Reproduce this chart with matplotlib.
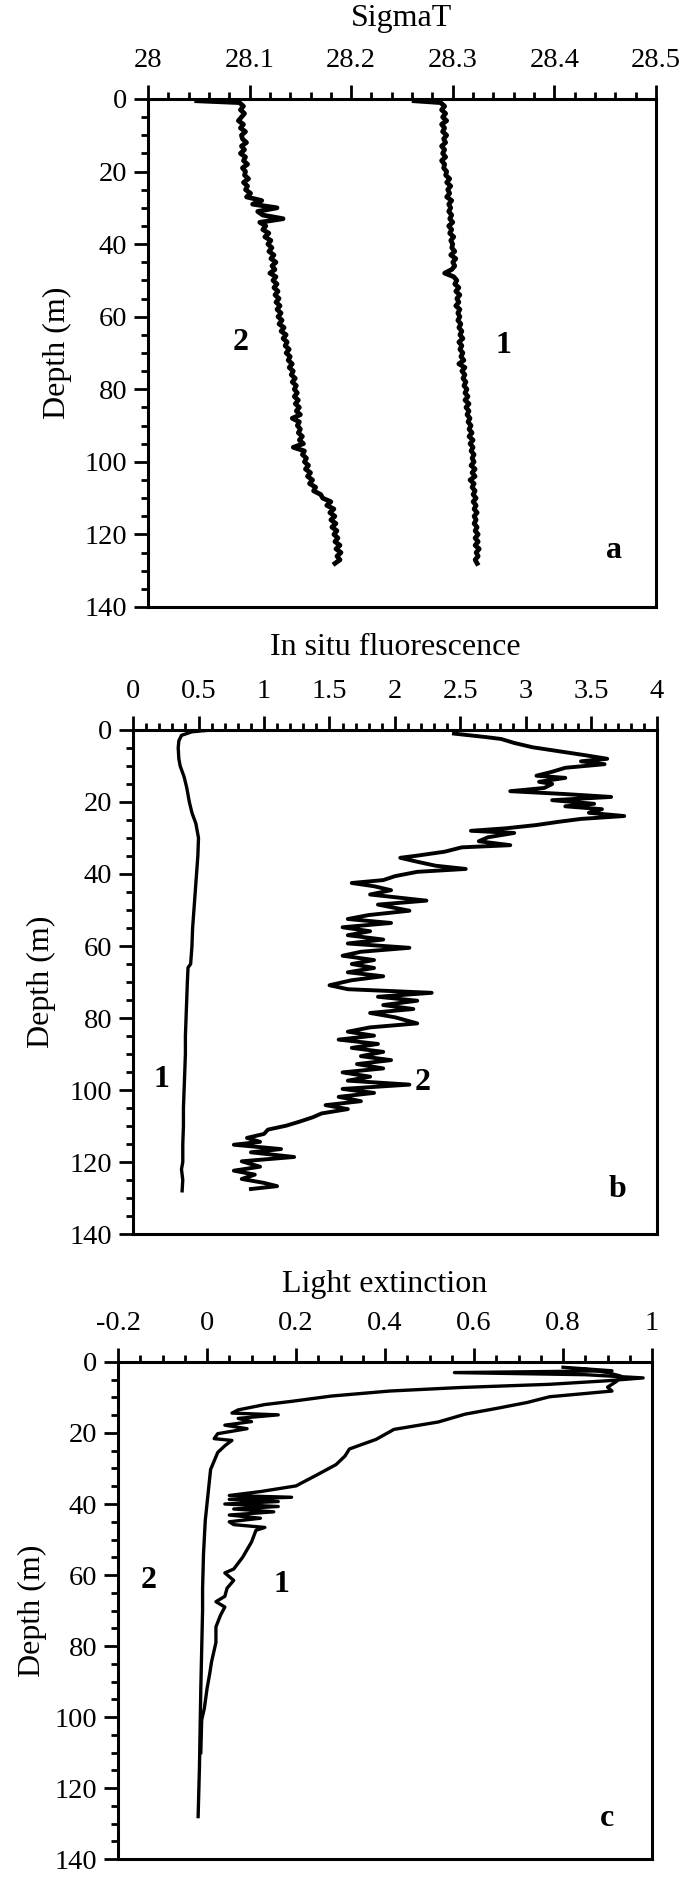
"""
Three depth profiles (SigmaT, in situ fluorescence, light extinction), stations 1 and 2.
"""

import matplotlib
matplotlib.use("Agg")
import matplotlib.pyplot as plt
import numpy as np

plt.rcParams["font.family"] = ["Liberation Serif", "DejaVu Serif"]

# ---- panel a: SigmaT, 1 m bins (first point at 0.5 m) ----
depth_a = [0.5] + list(range(1, 129))
sigma_2 = [
    28.048,
    28.090, 28.094, 28.091, 28.095, 28.092, 28.089, 28.094, 28.091, 28.096, 28.092,
    28.093, 28.097, 28.092, 28.095, 28.091, 28.096, 28.094, 28.098, 28.093, 28.096,
    28.095, 28.099, 28.094, 28.098, 28.096, 28.101, 28.097, 28.112, 28.103, 28.127,
    28.108, 28.113, 28.133, 28.110, 28.116, 28.113, 28.119, 28.115, 28.121, 28.118,
    28.122, 28.119, 28.124, 28.121, 28.126, 28.122, 28.125, 28.120, 28.126, 28.123,
    28.127, 28.124, 28.128, 28.125, 28.129, 28.126, 28.130, 28.127, 28.131, 28.128,
    28.132, 28.129, 28.134, 28.131, 28.136, 28.133, 28.137, 28.135, 28.139, 28.136,
    28.140, 28.138, 28.142, 28.139, 28.143, 28.141, 28.145, 28.142, 28.146, 28.144,
    28.147, 28.144, 28.148, 28.145, 28.149, 28.146, 28.150, 28.142, 28.149, 28.147,
    28.150, 28.148, 28.152, 28.149, 28.153, 28.143, 28.154, 28.152, 28.156, 28.154,
    28.158, 28.155, 28.160, 28.157, 28.162, 28.159, 28.165, 28.163, 28.170, 28.172,
    28.180, 28.176, 28.183, 28.179, 28.184, 28.180, 28.185, 28.181, 28.186, 28.183,
    28.187, 28.184, 28.189, 28.185, 28.190, 28.186, 28.189, 28.184,
]
sigma_1 = [
    28.262,
    28.288, 28.292, 28.289, 28.293, 28.290, 28.294, 28.289, 28.292, 28.290, 28.294,
    28.291, 28.293, 28.289, 28.292, 28.290, 28.293, 28.289, 28.292, 28.291, 28.294,
    28.293, 28.297, 28.294, 28.298, 28.295, 28.297, 28.294, 28.299, 28.296, 28.298,
    28.296, 28.299, 28.297, 28.300, 28.296, 28.299, 28.297, 28.301, 28.298, 28.300,
    28.299, 28.302, 28.298, 28.303, 28.300, 28.302, 28.299, 28.292, 28.301, 28.304,
    28.302, 28.306, 28.303, 28.307, 28.304, 28.306, 28.303, 28.307, 28.305, 28.307,
    28.305, 28.308, 28.306, 28.309, 28.307, 28.310, 28.306, 28.309, 28.307, 28.310,
    28.308, 28.311, 28.306, 28.312, 28.309, 28.312, 28.310, 28.313, 28.311, 28.314,
    28.312, 28.315, 28.312, 28.316, 28.313, 28.316, 28.314, 28.317, 28.315, 28.318,
    28.316, 28.319, 28.316, 28.320, 28.317, 28.320, 28.318, 28.321, 28.319, 28.321,
    28.318, 28.322, 28.319, 28.322, 28.317, 28.321, 28.319, 28.322, 28.320, 28.323,
    28.320, 28.323, 28.321, 28.324, 28.321, 28.323, 28.321, 28.324, 28.322, 28.325,
    28.322, 28.325, 28.322, 28.326, 28.323, 28.325, 28.322, 28.324,
]

# ---- panel b: in situ fluorescence ----
depth_fl1 = [0, 0.5, 1.5, 3, 5, 8, 10, 13, 16, 20, 23, 26, 30, 35, 40, 45, 50, 55,
             60, 65, 66, 70, 75, 80, 85, 90, 95, 100, 105, 110, 115, 120, 122, 125, 128]
fluo_1 = [0.60, 0.45, 0.37, 0.35, 0.345, 0.35, 0.36, 0.39, 0.41, 0.43, 0.45, 0.48,
          0.50, 0.495, 0.485, 0.475, 0.465, 0.455, 0.45, 0.44, 0.42, 0.415, 0.41,
          0.405, 0.40, 0.40, 0.395, 0.39, 0.385, 0.385, 0.38, 0.38, 0.37, 0.38, 0.375]

depth_fl2 = [
    1, 2, 2.5, 3.6, 4.8, 5.9, 7.0, 8.0, 8.7, 9.5,
    10.5, 11.6, 12.7, 13.3, 14.4, 15, 16.1, 17, 17.8, 18.6,
    19.5, 20.5, 21.2, 22, 23, 23.9, 24.7, 25.5, 26.4, 27.3,
    28, 28.6, 29.8, 30.9, 32, 32.6, 33.8, 34.9, 35.5, 36.6,
    37.7, 38.6, 39.4, 40.6, 41.7, 42.5, 43.4, 44.5, 45.7, 47.4,
    48.5, 50.2, 51.4, 52.5, 53.6, 54.8, 55.9, 57, 58.2, 59.3,
    60.5, 61.6, 62.7, 63.9, 65, 66.1, 67.3, 68.4, 69.5, 70.9,
    72, 73, 74.1, 75.2, 76.4, 77.5, 78.6, 79.8, 81.5, 82.6,
    83.8, 84.9, 86, 87.2, 88.3, 89.4, 90.6, 91.7, 92.8, 94,
    95.1, 96.3, 97.4, 98.5, 99.7, 100.8, 101.9, 103.1, 104.2, 105.3,
    106.5, 107.6, 108.8, 109.9, 111, 112.2, 113.3, 114.4, 115.2, 116.4,
    117.3, 118.6, 119.8, 121.3, 122.4, 123.5, 124.7, 125.8, 126.7, 127.5,
]
fluo_2 = [
    2.45, 2.7, 2.81, 2.91, 3.05, 3.25, 3.45, 3.62, 3.42, 3.6,
    3.3, 3.2, 3.08, 3.3, 3.1, 3.2, 3.14, 2.88, 3.3, 3.65,
    3.2, 3.52, 3.3, 3.58, 3.48, 3.75, 3.42, 3.25, 3.08, 2.85,
    2.58, 2.91, 2.71, 2.64, 2.88, 2.51, 2.38, 2.17, 2.04, 2.17,
    2.31, 2.54, 2.17, 2.0, 1.91, 1.67, 1.84, 1.97, 1.81, 2.24,
    1.87, 2.11, 1.8, 1.64, 1.97, 1.6, 1.81, 1.64, 1.91, 1.64,
    2.11, 1.74, 1.6, 1.84, 1.67, 1.84, 1.64, 1.91, 1.67, 1.5,
    1.64, 2.28, 1.87, 2.17, 1.91, 2.14, 1.81, 2.0, 2.17, 1.81,
    1.64, 1.84, 1.57, 1.87, 1.67, 1.91, 1.74, 1.97, 1.71, 1.91,
    1.6, 1.81, 1.64, 2.11, 1.6, 1.84, 1.57, 1.74, 1.47, 1.64,
    1.44, 1.37, 1.27, 1.17, 1.03, 1.0, 0.87, 0.97, 0.77, 1.13,
    0.9, 1.23, 0.83, 0.97, 0.77, 0.93, 0.83, 1.0, 1.1, 0.9,
]

# ---- panel c: light extinction ----
depth_ex1 = [2, 3, 4, 5.5, 7.1, 8.2, 9.8, 11.4, 13.1, 14.7,
             16.9, 19, 21.8, 24.5, 26.5, 28.9, 31.6, 34.9, 36.5, 37.6,
             38.1, 38.7, 39.3, 40.0, 40.7, 41.4, 42.2, 43.1, 44.0, 45.0,
             45.8, 46.6, 47.4, 50.7, 55, 58.3, 59.4, 61.5, 63.7, 66,
             67.5, 69, 71.4, 74.6, 79, 84.5, 87.8, 92, 97.5, 100.8, 110]
ext_1 = [0.85, 0.90, 0.93, 0.92, 0.90, 0.91, 0.77, 0.72, 0.65, 0.58,
         0.52, 0.42, 0.38, 0.32, 0.31, 0.29, 0.25, 0.20, 0.12, 0.05,
         0.19, 0.05, 0.16, 0.04, 0.16, 0.06, 0.15, 0.05, 0.12, 0.05,
         0.06, 0.13, 0.11, 0.10, 0.08, 0.06, 0.04, 0.06, 0.045, 0.04,
         0.02, 0.04, 0.03, 0.02, 0.02, 0.01, 0.006, 0.0, -0.006, -0.012, -0.014]

depth_ex2 = [1.5, 2.5, 3.0, 3.6, 4.5, 5.3, 6.3, 7.2, 8.2, 9.6,
             11.1, 12, 13.5, 14.4, 14.9, 15.9, 16.8, 17.8, 18.8, 20.2,
             21.6, 22.1, 23.6, 25.5, 30.3, 35.1, 39.9, 44.7, 54.3, 63.9,
             70, 92, 114, 128]
ext_2 = [0.80, 0.91, 0.556, 0.85, 0.98, 0.90, 0.77, 0.57, 0.41, 0.28,
         0.19, 0.13, 0.07, 0.056, 0.16, 0.07, 0.10, 0.04, 0.09, 0.024,
         0.016, 0.056, 0.04, 0.024, 0.008, 0.004, 0.0, -0.004, -0.008, -0.01,
         -0.01, -0.014, -0.017, -0.02]

ticks_a = [28, 28.1, 28.2, 28.3, 28.4, 28.5]
labels_a = ["28", "28.1", "28.2", "28.3", "28.4", "28.5"]
ticks_b = [0, 0.5, 1, 1.5, 2, 2.5, 3, 3.5, 4]
labels_b = ["0", "0.5", "1", "1.5", "2", "2.5", "3", "3.5", "4"]
ticks_c = [-0.2, 0, 0.2, 0.4, 0.6, 0.8, 1]
labels_c = ["-0.2", "0", "0.2", "0.4", "0.6", "0.8", "1"]
depth_ticks = [0, 20, 40, 60, 80, 100, 120, 140]


def style_panel(ax, ticks, labels, minor_step, title, title_y, ylab_x):
    ax.set_xlim(ticks[0], ticks[-1])
    ax.set_ylim(140, 0)
    ax.xaxis.tick_top()
    ax.set_xticks(ticks)
    ax.set_xticklabels(labels)
    ax.set_xticks(np.arange(ticks[0], ticks[-1] + 1e-9, minor_step), minor=True)
    ax.set_yticks(depth_ticks)
    ax.set_yticks(np.arange(0, 141, 5), minor=True)
    ax.tick_params(axis="x", which="major", direction="out", length=10, width=2,
                   pad=9, labelsize=20.5, top=True, bottom=False)
    ax.tick_params(axis="x", which="minor", direction="out", length=5, width=2,
                   top=True, bottom=False)
    ax.tick_params(axis="y", which="major", direction="out", length=10, width=2,
                   pad=5, labelsize=20.5)
    ax.tick_params(axis="y", which="minor", direction="out", length=5, width=2)
    for sp in ax.spines.values():
        sp.set_linewidth(2.2)
    ax.text(0.5, title_y, title, transform=ax.transAxes, ha="center", va="center",
            fontsize=23)
    ax.text(ylab_x, 0.5, "Depth (m)", transform=ax.transAxes, ha="center",
            va="center", rotation=90, fontsize=23)


fig = plt.figure(figsize=(6.87, 18.78), dpi=100)
ax_a = fig.add_axes([0.2154, 0.6768, 0.7394, 0.2705])
ax_b = fig.add_axes([0.1936, 0.3429, 0.7627, 0.2684])
ax_c = fig.add_axes([0.1718, 0.0100, 0.7773, 0.2648])

lab = dict(fontsize=23, fontweight="bold", ha="center", va="center")

# a
ax_a.plot(sigma_2, depth_a, color="black", lw=3.4)
ax_a.plot(sigma_1, depth_a, color="black", lw=3.4)
style_panel(ax_a, ticks_a, labels_a, 0.02, "SigmaT", 1.159, -0.178)
ax_a.text(28.091, 67, "2", **lab)
ax_a.text(28.35, 68, "1", **lab)
ax_a.text(28.459, 124.5, "a", **lab)

# b
ax_b.plot(fluo_1, depth_fl1, color="black", lw=2.4)
ax_b.plot(fluo_2, depth_fl2, color="black", lw=2.8)
style_panel(ax_b, ticks_b, labels_b, 0.1, "In situ fluorescence", 1.163, -0.175)
ax_b.text(0.22, 97, "1", **lab)
ax_b.text(2.21, 98, "2", **lab)
ax_b.text(3.70, 127.5, "b", **lab)

# c
ax_c.plot(ext_1, depth_ex1, color="black", lw=2.4)
ax_c.plot(ext_2, depth_ex2, color="black", lw=2.4)
style_panel(ax_c, ticks_c, labels_c, 0.05, "Light extinction", 1.156, -0.16)
ax_c.text(-0.132, 61.6, "2", **lab)
ax_c.text(0.168, 62.7, "1", **lab)
ax_c.text(0.898, 128.6, "c", **lab)

fig.savefig("out.png", dpi=100)
plt.close(fig)
